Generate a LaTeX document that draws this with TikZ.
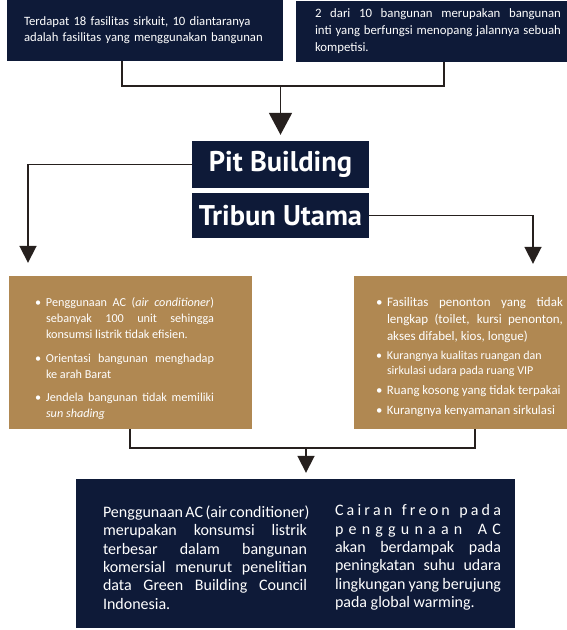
\documentclass[tikz,border=0pt]{standalone}
\usepackage{fontspec}
\setmainfont{Carlito}
\newfontfamily\titlefont{PT Sans}
\usetikzlibrary{arrows.meta,positioning}
\definecolor{navyblue}{RGB}{14,26,56}
\definecolor{boxtan}{RGB}{176,136,82}
\definecolor{ink}{RGB}{38,32,30}
% bullet paragraph with hanging indent
\newcommand{\bitem}[2][]{\par{#1\hangindent=11pt\hangafter=1\noindent\makebox[11pt][l]{\textbullet}#2\par}}
% one justified line
\newcommand{\jline}[1]{\makebox[\linewidth][s]{#1}\\}
\tikzset{
  navybox/.style={fill=navyblue, text=white, inner sep=0pt},
  tanbox/.style={fill=boxtan, inner sep=0pt},
  titlebox/.style={navybox, minimum width=177pt, font=\titlefont\bfseries\fontsize{28.5}{30}\selectfont},
  bodytext/.style={text=white, inner sep=0pt, align=justify},
  conn/.style={draw=ink, line width=1.8pt},
  arr/.style={conn, -{Triangle[width=17pt,length=17pt]}},
}
\begin{document}
\begin{tikzpicture}[x=1pt,y=-1pt]
  \useasboundingbox[fill=white] (0,0) rectangle (567,630);
  % top boxes
  \node[navybox, text width=242pt, inner xsep=17pt, minimum height=61pt, align=left,
        font=\fontsize{12.7}{16}\selectfont] (tl) at (145,30.5)
        {Terdapat 18 fasilitas sirkuit, 10 diantaranya\\adalah fasilitas yang menggunakan bangunan};
  \node[navybox, text width=246pt, inner xsep=19pt, minimum height=61pt, align=justify,
        font=\fontsize{12.8}{17}\selectfont] (tr) at (438,31.5)
        {2 dari 10 bangunan merupakan bangunan\linebreak inti yang berfungsi menopang jalannya sebuah\linebreak kompetisi.};
  % titles
  \node[titlebox, minimum height=47pt] (pit) at (280.5,164.5) {Pit Building};
  \node[titlebox, minimum height=45pt] (tribun) at (280.5,215.5) {Tribun Utama};
  % problem boxes
  \node[tanbox, minimum width=243pt, minimum height=153pt] (tanl) at (130.5,352.5) {};
  \node[tanbox, minimum width=213pt, minimum height=153pt] (tanr) at (460.5,352.5) {};
  \node[bodytext, text width=179pt, font=\fontsize{12.2}{16}\selectfont] (tanltxt) at ([xshift=-6pt,yshift=1pt]tanl.center) {%
    \setlength{\parskip}{7.5pt}\hyphenpenalty=10000%
    \bitem{Penggunaan AC (\textit{air conditioner})\linebreak sebanyak 100 unit sehingga\linebreak konsumsi listrik tidak efisien.}
    \bitem{Orientasi bangunan menghadap\linebreak ke arah Barat}
    \bitem{Jendela bangunan tidak memiliki\linebreak \textit{sun shading}}};
  \node[bodytext, text width=187pt, font=\fontsize{13}{17}\selectfont] (tanrtxt) at ([xshift=9pt,yshift=1pt]tanr.center) {%
    \setlength{\parskip}{4pt}\hyphenpenalty=10000%
    \bitem{Fasilitas penonton yang tidak\linebreak lengkap (toilet, kursi penonton,\linebreak akses difabel, kios, longue)}
    \bitem[\fontsize{12}{15}\selectfont]{Kurangnya kualitas ruangan dan\\ sirkulasi udara pada ruang VIP}
    \bitem[\fontsize{12.8}{16}\selectfont]{Ruang kosong yang tidak terpakai}
    \bitem[\fontsize{12.8}{16}\selectfont]{Kurangnya kenyamanan sirkulasi}};
  % conclusion box
  \node[navybox, minimum width=439pt, minimum height=149pt] (concl) at (295.5,553.5) {};
  \node[bodytext, text width=204pt, anchor=west, font=\fontsize{16}{18.3}\selectfont] (concltxtl) at ([xshift=27pt,yshift=-4pt]concl.west)
    {\jline{Penggunaan AC (air conditioner)}
     \jline{merupakan konsumsi listrik}
     \jline{terbesar dalam bangunan}
     \jline{komersial menurut penelitian}
     \jline{data Green Building Council}
     Indonesia.};
  \node[bodytext, text width=166pt, anchor=west, font=\fontsize{16}{18.3}\selectfont] (concltxtr) at ([xshift=259pt,yshift=-4pt]concl.west)
    {\jline{C a i r a n \ \ f r e o n \ \ p a d a}
     \jline{p e n g g u n a a n \ \ A C}
     \jline{akan berdampak pada}
     \jline{peningkatan suhu udara}
     \jline{lingkungan yang berujung}
     pada global warming.};
  % connectors
  \coordinate (j1) at (pit.north |- 0,86);
  \coordinate (j2) at ([xshift=10.5pt]concl.north |- 0,448);
  \draw[conn] ([xshift=-23pt]tl.south) |- (j1) -| ([xshift=6pt]tr.south);
  \draw[conn, -{Triangle[width=23pt,length=22pt]}, shorten >=6pt] (j1) -- (pit.north);
  \draw[arr, shorten >=13pt] (pit.west) -| ([xshift=-102.5pt]tanl.north);
  \draw[arr, shorten >=12pt] (tribun.east) -| ([xshift=72.5pt]tanr.north);
  \draw[conn] ([xshift=-0.5pt]tanl.south) |- (j2) -| ([xshift=14.5pt]tanr.south);
  \draw[arr, shorten >=6pt] (j2) -- (j2 |- concl.north);
\end{tikzpicture}
\end{document}
